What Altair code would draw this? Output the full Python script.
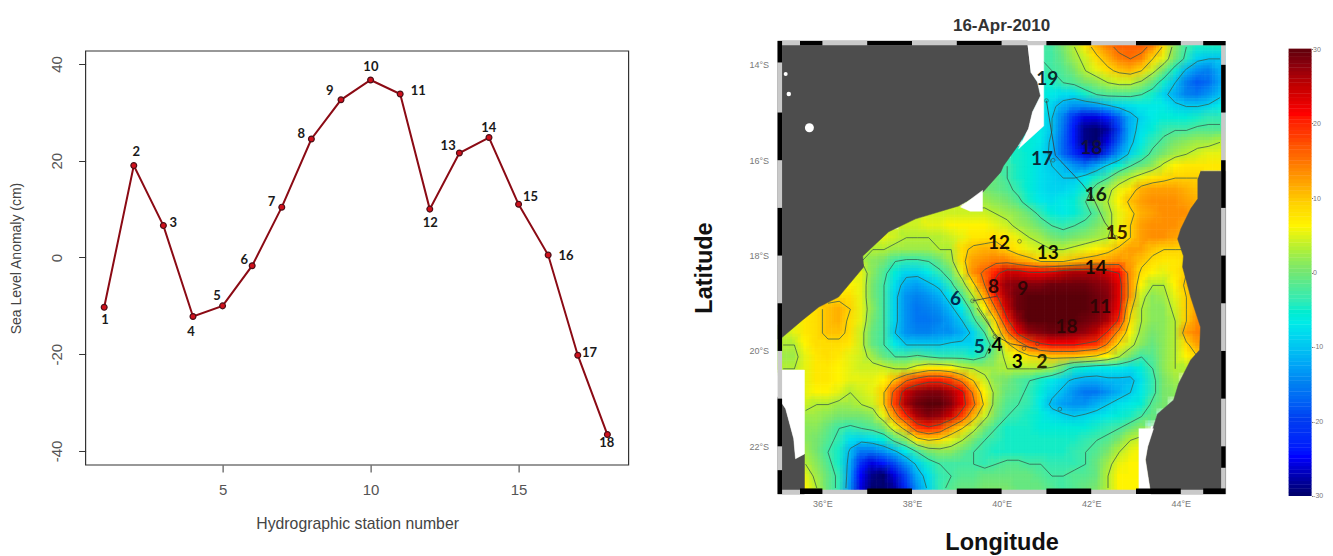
import altair as alt
import pandas as pd

# ---------- left panel values ----------
STATIONS = list(range(1, 19))
SLA = [-10.3, 19, 6.6, -12.2, -10, -1.7, 10.4, 24.5, 32.6, 36.7, 33.8, 10, 21.6, 24.8, 11, 0.5, -20.2, -36.6]
LABEL_X = [1.03, 2.08, 3.33, 3.93, 4.81, 5.73, 6.65, 7.66, 8.62, 10.01, 11.61, 12.02, 12.62, 13.99, 15.4, 16.6, 17.4, 17.98]
LABEL_Y = [-13.0, 21.8, 7.2, -15.4, -8.05, -0.6, 11.5, 25.6, 34.4, 39.4, 34.4, 7.2, 23.1, 26.7, 12.5, 0.4, -19.7, -38.3]

# ---------- sea level anomaly field, 0.25 deg cells; each row starts at column ROW_START ----------
ROW_START = [23,23,23,23,23,23,23,23,22,21,20,19,18,17,13,11,8,7,6,6,5,4,2,1,0,0,0,0,2,2,2,2,2,2,2,2,2,2]
ROWS = [
[-3,-3,0,3,7,11,14,16,16,16,14,8,1,-3,-5,-5,-5],
[-3,-3,-1,2,4,8,11,14,15,14,9,5,0,-4,-9,-10,-10],
[-4,-3,-2,0,3,5,8,10,11,9,4,0,-5,-11,-14,-15,-12],
[-5,-5,-3,-2,0,1,3,4,4,2,-1,-5,-10,-15,-18,-17,-13],
[-6,-7,-8,-8,-5,-3,-2,-2,-2,-3,-5,-9,-12,-15,-16,-14,-11],
[-6,-9,-12,-14,-14,-13,-11,-9,-8,-7,-7,-7,-9,-10,-10,-9,-7],
[-7,-10,-15,-22,-26,-26,-24,-18,-12,-9,-7,-6,-6,-6,-5,-4,-4],
[-7,-10,-16,-24,-29,-30,-28,-20,-12,-8,-6,-4,-3,-3,-2,-2,-2],
[-6,-7,-11,-17,-24,-29,-30,-26,-18,-11,-7,-4,-2,0,1,2,2,3],
[-5,-6,-8,-11,-17,-22,-26,-27,-20,-14,-9,-5,-2,0,2,3,4,5,5],
[-3,-5,-6,-8,-10,-11,-14,-16,-13,-9,-6,-3,-1,1,4,6,7,7,7,7],
[-1,-3,-5,-6,-8,-9,-10,-10,-8,-5,-3,1,3,5,7,8,9,9,9],
[0,-1,-2,-4,-6,-8,-9,-9,-8,-5,-1,2,5,7,11,12,12,12,11,10],
[2,2,1,0,-2,-5,-7,-8,-7,-6,-3,1,3,6,10,12,13,13,13,12,11],
[4,4,4,4,4,4,3,2,1,-1,-4,-6,-7,-6,-4,-2,2,5,8,11,12,13,13,13,11],
[4,4,5,5,6,6,6,6,5,4,2,1,-1,-3,-4,-3,-2,0,2,5,9,12,13,13,13,12],
[4,5,4,3,3,3,3,4,5,7,7,8,7,5,3,2,0,-1,0,1,2,3,6,9,12,13,13,12,11],
[3,3,3,2,2,2,2,3,3,8,10,11,11,9,7,5,4,3,3,4,5,6,8,10,12,12,10,9,9,9],
[4,3,1,0,-3,-4,-4,-3,-1,2,8,12,13,14,14,12,11,9,9,9,10,11,12,12,13,12,10,8,7,7,8],
[5,5,1,-2,-6,-9,-9,-7,-4,-1,5,13,16,20,24,24,22,22,23,25,26,26,26,24,21,13,8,6,5,7,9],
[6,6,5,0,-3,-8,-12,-13,-11,-9,-4,1,8,15,23,27,28,28,28,29,29,29,29,28,27,23,13,6,3,3,6,10],
[8,8,8,5,0,-3,-9,-14,-15,-14,-12,-8,-3,3,11,20,26,29,30,30,30,30,30,30,29,28,23,13,4,1,2,5,9,12],
[7,8,10,11,9,5,1,-3,-9,-14,-16,-15,-14,-11,-7,-1,6,15,24,29,30,30,30,30,30,30,29,27,22,10,3,1,1,4,9,12],
[5,7,8,10,11,8,5,0,-3,-9,-14,-16,-16,-15,-13,-10,-4,1,9,20,27,30,30,30,30,30,29,28,26,20,8,3,1,1,3,9,13],
[3,5,7,8,10,10,8,4,-1,-3,-10,-14,-15,-15,-14,-14,-12,-9,-3,5,14,22,27,28,29,29,28,27,25,20,13,6,2,0,1,3,12,14],
[3,3,6,8,8,8,7,4,-1,-3,-7,-10,-10,-10,-10,-9,-9,-9,-5,-1,8,12,17,20,21,21,21,20,19,14,8,4,1,-1,1,3,8,12],
[2,2,5,7,8,7,5,4,2,-1,-3,-3,-2,-3,-4,-4,-4,-5,-3,1,4,6,8,9,10,10,10,9,8,6,3,0,-3,-2,1,3,6,9],
[3,3,5,7,7,6,5,4,4,4,3,3,5,7,7,6,4,3,2,2,3,3,3,3,2,-1,-5,-6,-7,-7,-7,-8,-6,-3,1,3,3],
[5,7,7,6,5,5,5,6,10,15,18,20,20,18,14,9,4,1,0,-2,-3,-5,-7,-9,-11,-12,-12,-11,-11,-11,-8,-4,0,2],
[5,6,6,5,3,4,5,9,17,24,27,28,28,26,22,14,6,2,-1,-2,-4,-6,-9,-11,-14,-16,-16,-14,-12,-10,-7,-4,0,1],
[4,3,3,2,2,3,4,9,18,26,29,30,30,28,23,16,8,1,-2,-3,-4,-7,-11,-13,-14,-14,-12,-10,-8,-7,-6,-2,0],
[2,2,1,0,0,0,1,5,13,20,26,28,27,24,18,11,4,0,-3,-4,-5,-6,-8,-9,-10,-9,-8,-7,-6,-5,-3,-1],
[1,1,-1,-3,-4,-3,-2,0,5,11,18,20,18,13,9,4,0,-3,-5,-5,-5,-6,-6,-6,-6,-6,-5,-4,-3,-1,1],
[1,0,-2,-4,-8,-9,-8,-6,-2,1,7,9,8,5,3,0,-3,-4,-5,-5,-5,-5,-5,-5,-5,-4,-3,-2,0,3,4],
[2,0,-3,-5,-11,-16,-16,-14,-11,-7,-3,0,1,1,-1,-3,-4,-5,-5,-5,-5,-5,-5,-5,-4,-3,-2,0,3,5,6],
[3,1,-2,-5,-12,-22,-26,-24,-19,-14,-9,-5,-3,-3,-3,-3,-4,-3,-2,-2,-3,-3,-4,-4,-4,-3,-1,2,5,6,6],
[5,2,-1,-4,-13,-25,-29,-30,-26,-19,-12,-8,-4,-3,-2,-2,-1,-1,-1,-1,-1,-2,-3,-3,-2,-2,-1,3,6,6,6],
[6,3,-1,-4,-14,-26,-30,-30,-28,-22,-14,-9,-4,-2,-1,-1,0,0,0,-1,-1,-1,-2,-3,-2,-1,0,3,6,6,6],
]
CONTOUR_LEVELS = [-10, -3, 3, 9, 15, 21]

COLOR_STOPS = [-30, -25, -20, -15, -10, -7, -4, 0, 3, 6, 9, 12, 15, 18, 21, 25, 30]
COLOR_RANGE = ["#00006e", "#0000ff", "#003cf0", "#0082f0", "#00c8f0", "#00ebe6", "#32ebb4", "#78e66e",
               "#b4f032", "#fff500", "#ffd200", "#ffa000", "#ff6e00", "#ff3c00", "#ff0000", "#be0000", "#5a000a"]

# ---------- land and gaps in lon / lat ----------
LAND = {
    "africa": [(35, 13.5), (40.58, 13.5), (40.58, 13.58), (40.65, 14.15), (40.80, 14.36), (40.87, 14.65), (40.69, 14.99),
               (40.60, 15.34), (40.36, 15.70), (40.04, 16.12), (39.98, 16.25), (39.58, 16.67), (39.04, 16.96), (38.08, 17.23),
               (37.48, 17.50), (36.90, 18.01), (36.92, 18.24), (36.36, 18.87), (35.92, 19.08), (35.56, 19.35), (35.11, 19.71), (35, 19.75)],
    "sw": [(35, 20.96), (35.18, 21.21), (35.36, 21.84), (35.40, 22.26), (35.60, 22.16), (35.60, 23), (35, 23)],
    "madagascar": [(44.44, 16.23), (45, 16.23), (45, 23), (43.33, 23), (43.21, 22.28), (43.26, 22.01), (43.39, 21.59), (43.48, 21.32),
                   (43.84, 21.03), (43.95, 20.69), (44.22, 20.19), (44.42, 19.98), (44.44, 19.50), (44.22, 18.87), (44.04, 18.24),
                   (44.06, 18.01), (43.93, 17.65), (44.0, 17.44), (44.22, 17.02), (44.38, 16.81), (44.38, 16.39)],
}
GAPS = {
    "north": [(40.58, 13.58), (40.94, 13.58), (40.94, 15.28), (40.38, 15.76), (40.60, 15.34), (40.69, 14.99), (40.87, 14.65), (40.80, 14.36), (40.65, 14.15)],
    "mid": [(39.58, 16.63), (39.08, 16.98), (39.3, 17.07), (39.58, 17.07)],
    "west": [(35, 20.40), (35.60, 20.40), (35.60, 22.16), (35.40, 22.26), (35.36, 21.84), (35.18, 21.21), (35, 20.96)],
    "east": [(43.06, 21.63), (43.39, 21.63), (43.26, 22.01), (43.21, 22.28), (43.33, 23), (43.06, 23)],
}
ISLANDS = [(35.71, 15.32, 80), (35.18, 14.19, 16), (35.25, 14.61, 20)]

TRACK = {
    "a": [(41.0, 14.75), (41.2, 15.9), (41.8, 16.5), (42.05, 16.8), (42.3, 17.3), (42.55, 17.62)],
    "b": [(39.35, 18.95), (39.9, 18.85)],
    "c": [(39.45, 19.1), (39.9, 19.7), (40.2, 19.85), (40.8, 19.95)],
}
STATION_DOTS = [(40.7, 14.45), (41.0, 14.75), (41.15, 16.0), (41.98, 16.75), (42.55, 17.62), (40.4, 17.7), (39.35, 18.95), (39.85, 19.7), (40.5, 19.95), (40.8, 19.85), (41.3, 21.22)]
MAP_LABELS = [("19", 41.02, 14.3, "#0a2a2a"), ("18", 42.0, 15.74, "#101040"), ("17", 40.9, 15.97, "#0a2a3a"), ("16", 42.1, 16.72, "#102010"),
              ("15", 42.57, 17.52, "#3a2000"), ("14", 42.1, 18.27, "#1a0a00"), ("13", 41.03, 17.95, "#101000"), ("12", 39.94, 17.73, "#1a1000"),
              ("8", 39.82, 18.65, "#300505"), ("9", 40.47, 18.71, "#300505"), ("6", 38.97, 18.92, "#002a50"), ("11", 42.2, 19.08, "#300505"),
              ("18", 41.45, 19.5, "#300505"), ("5", 39.5, 19.92, "#003a55"), (",4", 39.85, 19.88, "#000000"), ("3", 40.35, 20.23, "#000000"), ("2", 40.9, 20.23, "#2a2a00")]

# frame pieces in degrees
FRAME_TOP = [(35.5, 36), (37, 38), (39, 40), (41, 42), (43, 44), (44.5, 45)]
FRAME_LEFT = [(13.5, 13.95), (15, 16), (17, 18), (19, 20), (21, 22), (22.5, 23)]
FRAME_RIGHT = [(14, 15), (16, 17), (18, 19), (20, 21), (22, 22.45)]
LON_TICKS = [36, 38, 40, 42, 44]
LAT_TICKS = [14, 16, 18, 20, 22]
CBAR_TICKS = [-30, -20, -10, 0, 10, 20, 30]
TITLE = "16-Apr-2010"

# ---------- derived tables ----------
grid = []
for s, vals in zip(ROW_START, ROWS):
    grid.append([None] * s + vals + [None] * (40 - s - len(vals)))

cells = []
for j, row in enumerate(grid):
    for i, v in enumerate(row):
        if v is not None:
            lon = 35 + 0.25 * i
            lat = 13.5 + 0.25 * j
            cells.append({"x": lon, "x2": lon + 0.255, "y": lat, "y2": lat + 0.255, "v": v})
cells = pd.DataFrame(cells)

def shifted(dx, dy):
    d = cells.copy()
    d["x"] = (d["x"] + dx).clip(35, 45)
    d["x2"] = (d["x2"] + dx).clip(35, 45)
    d["y"] = (d["y"] + dy).clip(13.5, 23)
    d["y2"] = (d["y2"] + dy).clip(13.5, 23)
    return d

def cross(l, a, b, pa, pb):
    t = (l - a) / (b - a)
    return (pa[0] + t * (pb[0] - pa[0]), pa[1] + t * (pb[1] - pa[1]))

segs = []
for l in CONTOUR_LEVELS:
    for j in range(37):
        for i in range(39):
            q = [grid[j][i], grid[j][i + 1], grid[j + 1][i + 1], grid[j + 1][i]]
            if any(v is None for v in q):
                continue
            pts = [(35.125 + 0.25 * i, 13.625 + 0.25 * j), (35.375 + 0.25 * i, 13.625 + 0.25 * j),
                   (35.375 + 0.25 * i, 13.875 + 0.25 * j), (35.125 + 0.25 * i, 13.875 + 0.25 * j)]
            hits = []
            for k in range(4):
                a, b = q[k], q[(k + 1) % 4]
                if (a < l) != (b < l):
                    hits.append(cross(l, a, b, pts[k], pts[(k + 1) % 4]))
            for m in range(0, len(hits) - 1, 2):
                segs.append({"x": hits[m][0], "y": hits[m][1], "x2": hits[m + 1][0], "y2": hits[m + 1][1]})
segs = pd.DataFrame(segs)

def poly_table(d):
    return pd.DataFrame([{"name": n, "o": k, "x": p[0], "y": p[1]} for n, pts in d.items() for k, p in enumerate(pts)])

EDGE_X, EDGE_Y = 0.10, 0.09
frame = [dict(x=35, x2=45, y=13.5, y2=13.5 + EDGE_Y, c="#c9c9c9"), dict(x=35, x2=45, y=23 - EDGE_Y, y2=23, c="#c9c9c9"),
         dict(x=35, x2=35 + EDGE_X, y=13.5, y2=23, c="#c9c9c9"), dict(x=45 - EDGE_X, x2=45, y=13.5, y2=23, c="#c9c9c9")]
for a, b in FRAME_TOP:
    frame += [dict(x=a, x2=b, y=13.5, y2=13.5 + EDGE_Y, c="#000000"), dict(x=a, x2=b, y=23 - EDGE_Y * 1.3, y2=23, c="#000000")]
for a, b in FRAME_LEFT:
    frame.append(dict(x=35, x2=35 + EDGE_X, y=a, y2=b, c="#000000"))
for a, b in FRAME_RIGHT:
    frame.append(dict(x=45 - EDGE_X, x2=45, y=a, y2=b, c="#000000"))
frame = pd.DataFrame(frame)

# ---------- left panel ----------
GREY = "#555555"
lx = alt.X("x:Q", scale=alt.Scale(domain=[0.372, 18.717], range=[0, 543], nice=False, zero=False),
           axis=alt.Axis(values=[5, 10, 15], title="Hydrographic station number", grid=False, labelFont="Liberation Sans", labelFontSize=15,
                         labelColor=GREY, titleFont="Liberation Sans", titleFontSize=15.8, titleColor="#444444", titleFontWeight="normal",
                         tickColor="#333333", domain=False, tickSize=7, labelPadding=11, titlePadding=19, format="d"))
ly = alt.Y("y:Q", scale=alt.Scale(domain=[-42.9, 42.69], range=[424, 10], nice=False, zero=False),
           axis=alt.Axis(values=[-40, -20, 0, 20, 40], title="Sea Level Anomaly (cm)", grid=False, labelFont="Liberation Sans", labelFontSize=15,
                         labelColor=GREY, labelAngle=270, labelAlign="center", labelBaseline="bottom", labelExpr="'' + datum.value",
                         titleFont="Liberation Sans", titleFontSize=14, titleColor="#444444", titleFontWeight="normal",
                         tickColor="#333333", domain=False, tickSize=7, labelPadding=14, titlePadding=26))

sdf = pd.DataFrame({"x": STATIONS, "y": SLA})
ldf = pd.DataFrame({"x": LABEL_X, "y": LABEL_Y, "t": [str(s) for s in STATIONS]})
box = pd.DataFrame([{"x": 0.372, "x2": 18.717, "y": -42.9, "y2": 42.69}])
left = alt.layer(
    alt.Chart(box).mark_rect(fill=None, stroke="#333333", strokeWidth=1.2).encode(x=lx, x2="x2:Q", y=ly, y2="y2:Q"),
    alt.Chart(sdf).mark_line(color="#8b0a14", strokeWidth=2).encode(x=lx, y=ly),
    alt.Chart(sdf).mark_point(filled=True, fill="#d0101c", stroke="#4a1018", strokeWidth=1.2, size=34, opacity=1).encode(x=lx, y=ly),
    alt.Chart(ldf).mark_text(font="Lato", fontWeight="bold", fontSize=13, color="#1a1a1a").encode(x=lx, y=ly, text="t:N"),
).properties(width=692, height=424)

# ---------- map panel ----------
mx = alt.X("x:Q", scale=alt.Scale(domain=[35, 45], range=[0, 448], nice=False, zero=False),
           axis=alt.Axis(values=LON_TICKS, title="Longitude", grid=False, ticks=False, domain=False, labelExpr="datum.value + '°E'",
                         labelFont="Liberation Sans", labelFontSize=9, labelColor="#777777", labelPadding=6, titleFont="Liberation Sans",
                         titleFontSize=23.5, titleFontWeight="bold", titleColor="#111111", titlePadding=22))
my = alt.Y("y:Q", scale=alt.Scale(domain=[23, 13.5], range=[453, 0], nice=False, zero=False),
           axis=alt.Axis(values=LAT_TICKS, title="Latitude", grid=False, ticks=False, domain=False, labelExpr="datum.value + '°S'",
                         labelFont="Liberation Sans", labelFontSize=9, labelColor="#777777", labelPadding=9, titleFont="Liberation Sans",
                         titleFontSize=23.5, titleFontWeight="bold", titleColor="#111111", titlePadding=32))
color = alt.Color("v:Q", scale=alt.Scale(domain=COLOR_STOPS, range=COLOR_RANGE), legend=None)

def filled(d, col):
    return alt.Chart(poly_table(d)).mark_line(fill=col, stroke=col, strokeWidth=0.5).encode(x=mx, y=my, detail="name:N", order="o:Q")

def cell_layer(df, op):
    return alt.Chart(df).mark_rect(strokeWidth=0, opacity=op).encode(x=mx, x2="x2:Q", y=my, y2="y2:Q", color=color)

tdf = pd.DataFrame([{"name": n, "o": k, "x": p[0], "y": p[1]} for n, pts in TRACK.items() for k, p in enumerate(pts)])
map_chart = alt.layer(
    cell_layer(shifted(-0.05, -0.05), 1),
    cell_layer(shifted(0.075, 0.075), 0.5),
    cell_layer(shifted(-0.11, 0.01), 0.33),
    cell_layer(shifted(0.01, -0.11), 0.25),
    alt.Chart(segs).mark_rule(color="#35584a", strokeWidth=1, opacity=0.75).encode(x=mx, x2="x2:Q", y=my, y2="y2:Q"),
    alt.Chart(tdf).mark_line(color="#3a3a3a", strokeWidth=0.8).encode(x=mx, y=my, detail="name:N", order="o:Q"),
    alt.Chart(pd.DataFrame(STATION_DOTS, columns=["x", "y"])).mark_point(size=14, stroke="#3a4a3a", strokeWidth=0.8).encode(x=mx, y=my),
    filled(LAND, "#4d4d4d"),
    filled(GAPS, "#ffffff"),
    alt.Chart(pd.DataFrame(ISLANDS, columns=["x", "y", "s"])).mark_point(filled=True, color="#ffffff", opacity=1).encode(
        x=mx, y=my, size=alt.Size("s:Q", scale=None)),
    alt.Chart(frame).mark_rect(strokeWidth=0).encode(x=mx, x2="x2:Q", y=my, y2="y2:Q", color=alt.Color("c:N", scale=None, legend=None)),
    alt.Chart(pd.DataFrame(MAP_LABELS, columns=["t", "x", "y", "c"])).mark_text(font="Lato", fontWeight="bold", fontSize=19).encode(
        x=mx, y=my, text="t:N", color=alt.Color("c:N", scale=None, legend=None)),
    alt.Chart(pd.DataFrame({"t": [TITLE]})).mark_text(font="Liberation Sans", fontWeight="bold", fontSize=17, color="#333333").encode(
        x=alt.value(224), y=alt.value(-15), text="t:N"),
).properties(width=510.5, height=453).resolve_scale(color="independent")

# ---------- colour bar ----------
ramp = pd.DataFrame({"v": [v * 0.5 for v in range(-60, 60)]})
ramp["v2"] = ramp["v"] + 0.55
cby = alt.Y("v:Q", scale=alt.Scale(domain=[-30, 30], range=[455, 8], nice=False, zero=False),
            axis=alt.Axis(values=CBAR_TICKS, title=None, orient="right", grid=False, domain=False, tickSize=1, tickColor="#666666",
                          labelExpr="'' + datum.value", labelFont="Liberation Sans", labelFontSize=7, labelColor="#777777", labelPadding=0))
cbar = alt.Chart(ramp).mark_rect(strokeWidth=0).encode(
    x=alt.value(0), x2=alt.value(23), y=cby, y2="v2:Q",
    color=alt.Color("v:Q", scale=alt.Scale(domain=COLOR_STOPS, range=COLOR_RANGE), legend=None),
).properties(width=23, height=455)

chart = alt.hconcat(left, map_chart, cbar, spacing=0, bounds="flush").resolve_scale(color="independent").properties(
    padding={"left": 0.6, "top": 9, "right": 0, "bottom": 0}, background="#ffffff"
).configure_view(stroke=None)

chart.save("out.html", embed_options={"renderer": "svg", "actions": False})
